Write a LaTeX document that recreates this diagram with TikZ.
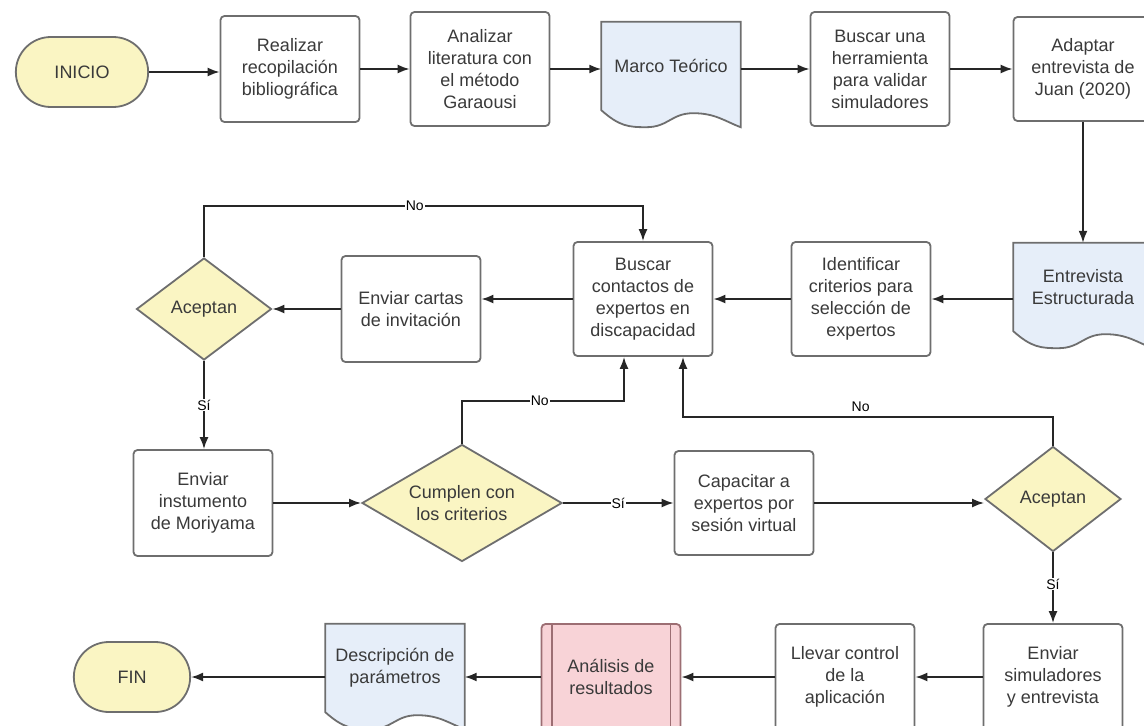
\documentclass[tikz,border=0pt]{standalone}
\usepackage{fontspec}
\setmainfont{Liberation Sans}
\usetikzlibrary{
  positioning, arrows.meta, shapes.geometric, shapes.misc, calc, backgrounds
}
\definecolor{lcyellow}{HTML}{FAF5C3}
\definecolor{lcblue}{HTML}{E6EEF9}
\definecolor{lcpink}{HTML}{F8D3D7}
\definecolor{lcpinkedge}{HTML}{9C6E73}
\definecolor{lcedge}{HTML}{6E6E6E}
\definecolor{lctext}{HTML}{3A3A3A}

% document shape: straight top and sides, wavy bottom
\newcommand{\docwave}[1]{%
  \path[draw=lcedge, fill=lcblue, line width=1.8pt]
    ($(#1.south east)+(0,17)$) -- (#1.north east) -- (#1.north west) -- (#1.south west)
    .. controls +(18,16) and +(-18,0) .. ($(#1.south west)+(45,17)$)
    .. controls +(22,0) and +(-22,0) .. ($(#1.south west)+(92,3)$)
    .. controls +(22,0) and +(-16,-6) .. ($(#1.south east)+(0,17)$) -- cycle;}

\begin{document}
\begin{tikzpicture}[
      x=1pt, y=-1pt,
      every node/.style={font=\fontsize{18}{22}\selectfont, text=lctext},
      proc/.style={draw=lcedge, line width=1.8pt, rounded corners=4pt, fill=white,
                   minimum width=139pt, minimum height=#1, align=center, inner sep=2pt},
      term/.style={rounded rectangle, draw=lcedge, line width=1.8pt, fill=lcyellow,
                   minimum width=#1, minimum height=70pt},
      decis/.style={diamond, draw=lcedge, line width=1.8pt, fill=lcyellow,
                    aspect=1.5, inner sep=0pt, align=center},
      doc/.style={minimum width=139pt, minimum height=88pt, align=center, inner sep=0pt},
      pred/.style={proc=106pt, fill=lcpink, draw=lcpinkedge},
      lbl/.style={fill=white, font=\fontsize{14}{16}\selectfont, text=black, inner sep=1pt},
      flow/.style={->, line width=1.8pt, draw=black!85},
      >={Latex[length=12pt, width=9pt]},
    ]
    \useasboundingbox (0,0) rectangle (1144,726);

    % top row
    \node[term=139pt]  (ini) at (82,72)   {INICIO};
    \node[proc=106pt]  (rea) at (290,69)  {Realizar\\recopilación\\bibliográfica};
    \node[proc=114pt]  (ana) at (480,69)  {Analizar\\literatura con\\el método\\Garaousi};
    \node[doc]         (mt)  at (671,66)  {Marco Teórico};
    \node[proc=114pt]  (bh)  at (880,69)  {Buscar una\\herramienta\\para validar\\simuladores};
    \node[proc=104pt]  (ad)  at (1083,69) {Adaptar\\entrevista de\\Juan (2020)};

    % second row
    \node[doc]         (ee)  at (1083,287) {Entrevista\\Estructurada};
    \node[proc=114pt]  (ic)  at (861,299)  {Identificar\\criterios para\\selección de\\expertos};
    \node[proc=114pt]  (bc)  at (643,299)  {Buscar\\contactos de\\expertos en\\discapacidad};
    \node[proc=106pt]  (ec)  at (411,309)  {Enviar cartas\\de invitación};
    \node[decis, minimum width=135pt, minimum height=102pt] (ac1) at (204,309) {Aceptan};

    % third row
    \node[proc=106pt]  (ei)  at (203,503)  {Enviar\\instumento\\de Moriyama};
    \node[decis, minimum width=200pt, minimum height=117pt] (cc) at (462,503) {Cumplen con\\los criterios};
    \node[proc=104pt]  (cap) at (744,503)  {Capacitar a\\expertos por\\sesión virtual};
    \node[decis, minimum width=136pt, minimum height=105pt] (ac2) at (1053,499) {Aceptan};

    % bottom row
    \node[proc=106pt]  (es)  at (1053,677) {Enviar\\simuladores\\y entrevista};
    \node[proc=106pt]  (lc)  at (845,677)  {Llevar control\\de la\\aplicación};
    \node[pred]        (an)  at (611,677)  {Análisis de\\resultados};
    \node[doc]         (dp)  at (395,668)  {Descripción de\\parámetros};
    \node[term=123pt]  (fin) at (132,677)  {FIN};

    \draw[lcpinkedge, line width=1.8pt] ([xshift=11pt]an.north west) -- ([xshift=11pt]an.south west);
    \draw[lcpinkedge, line width=1.8pt] ([xshift=-11pt]an.north east) -- ([xshift=-11pt]an.south east);

    \begin{scope}[on background layer]
      \docwave{mt}
      \docwave{ee}
      \docwave{dp}
    \end{scope}

    \draw[flow] (ini.east) -- (ini.east -| rea.west);
    \draw[flow] (rea.east) -- (ana.west);
    \draw[flow] (ana.east) -- (ana.east -| mt.west);
    \draw[flow] (ana.east -| mt.east) -- (bh.west);
    \draw[flow] (bh.east) -- (ad.west);
    \draw[flow] (ad.south) -- (ee.north);
    \draw[flow] (ic.east -| ee.west) -- (ic.east);
    \draw[flow] (ic.west) -- (bc.east);
    \draw[flow] (bc.west) -- (bc.west -| ec.east);
    \draw[flow] (ec.west) -- (ac1.east);
    \draw[flow] (ac1.north) -- ++(0,-51) -| node[lbl, pos=0.24] {No} (bc.north);
    \draw[flow] (ac1.south) -- node[lbl] {Sí} (ac1.south |- ei.north);
    \draw[flow] (ei.east) -- (cc.west);
    \draw[flow] (cc.north) |- node[lbl, pos=0.74] {No} ($(bc.south)+(-19,44)$) -- ($(bc.south)+(-19,0)$);
    \draw[flow] (cc.east) -- node[lbl] {Sí} (cap.west);
    \draw[flow] (cap.east) -- (cap.east -| ac2.west);
    \draw[flow] (ac2.north) |- node[lbl, fill=none, pos=0.76, above=3pt] {No} ($(bc.south)+(40,60)$) -- ($(bc.south)+(40,0)$);
    \draw[flow] (ac2.south) -- node[lbl, pos=0.45] {Sí} (es.north);
    \draw[flow] (es.west) -- (lc.east);
    \draw[flow] (lc.west) -- (an.east);
    \draw[flow] (an.west) -- (an.west -| dp.east);
    \draw[flow] (fin.east -| dp.west) -- (fin.east);
  \end{tikzpicture}
\end{document}
